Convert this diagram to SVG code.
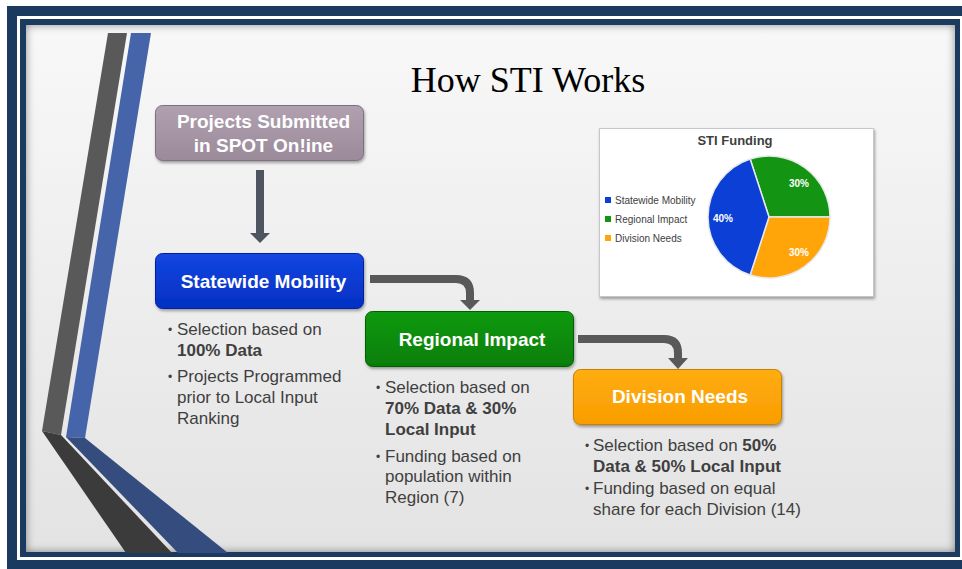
<svg xmlns="http://www.w3.org/2000/svg" width="962" height="569" viewBox="0 0 962 569">
<defs>
  <style>
    .box-t{font-family:"Liberation Sans",Arial,sans-serif;font-weight:bold;font-size:19px;fill:#ffffff;text-anchor:middle}
    .bul{font-family:"Liberation Sans",Arial,sans-serif;font-size:17px;fill:#3f3f3f}
    .dot{font-family:"Liberation Sans",Arial,sans-serif;font-size:12px;fill:#3f3f3f}
    .b{font-weight:bold}
    .leg{font-family:"Liberation Sans",Arial,sans-serif;font-size:10px;fill:#404040}
    .pct{font-family:"Liberation Sans",Arial,sans-serif;font-size:10px;font-weight:bold;fill:#ffffff;text-anchor:middle}
    .arrow{fill:#595959}
    .elbow{fill:none;stroke:#595959;stroke-width:8}
  </style>
  <linearGradient id="bg" x1="0" y1="0" x2="0" y2="1">
    <stop offset="0" stop-color="#f8f8f8"/>
    <stop offset="1" stop-color="#e3e3e3"/>
  </linearGradient>
  <linearGradient id="gMauve" x1="0" y1="0" x2="0" y2="1">
    <stop offset="0" stop-color="#b0a0b0"/>
    <stop offset="1" stop-color="#9a8a9a"/>
  </linearGradient>
  <linearGradient id="gBlue" x1="0" y1="0" x2="0" y2="1">
    <stop offset="0" stop-color="#1446e0"/>
    <stop offset="1" stop-color="#0330c4"/>
  </linearGradient>
  <linearGradient id="gGreen" x1="0" y1="0" x2="0" y2="1">
    <stop offset="0" stop-color="#119a11"/>
    <stop offset="1" stop-color="#067e06"/>
  </linearGradient>
  <linearGradient id="gOrange" x1="0" y1="0" x2="0" y2="1">
    <stop offset="0" stop-color="#ffad12"/>
    <stop offset="1" stop-color="#f99d00"/>
  </linearGradient>
  <filter id="shadow" x="-10%" y="-10%" width="130%" height="140%">
    <feDropShadow dx="1" dy="2" stdDeviation="1.5" flood-color="#000" flood-opacity="0.35"/>
  </filter>
  <filter id="blur6" x="-5%" y="-5%" width="110%" height="110%">
    <feGaussianBlur stdDeviation="4"/>
  </filter>
  <clipPath id="contentClip">
    <rect x="26" y="25" width="929" height="527"/>
  </clipPath>
</defs>

<!-- frame -->
<rect x="0" y="0" width="962" height="569" fill="#ffffff"/>
<rect x="7" y="6" width="962" height="570" fill="#1b3a5f"/>
<rect x="17" y="16" width="950" height="544" fill="#ffffff"/>
<rect x="20" y="19" width="940" height="538" fill="#1b3a5f"/>
<rect x="26" y="25" width="929" height="527" fill="url(#bg)"/>
<g clip-path="url(#contentClip)">
  <rect x="22" y="21" width="937" height="535" fill="none" stroke="#000" stroke-opacity="0.45" stroke-width="8" filter="url(#blur6)"/>
</g>

<!-- decorative stripes -->
<g id="stripes">
  <polygon points="108,33 127,33 61,435 42,431" fill="#595959"/>
  <polygon points="42,431 61,435 172,553 126,553" fill="#3b3b3b"/>
  <polygon points="131,33 151,33 85,438 66,437" fill="#4664a9"/>
  <polygon points="66,437 85,438 228,553 178,553" fill="#354c7f"/>
</g>

<!-- title -->
<text x="528" y="92" font-family="'Liberation Serif','Times New Roman',serif" font-size="36" fill="#000000" text-anchor="middle">How STI Works</text>

<!-- connectors -->
<g id="connectors">
  <g id="c-projects-statewide" fill="#4f5461">
    <rect x="256" y="170" width="8" height="64"/>
    <polygon points="250,233 270,233 260,243"/>
  </g>
  <g id="c-statewide-regional">
    <path class="elbow" d="M370 279 H456 Q470 279 470 293 V301"/>
    <polygon class="arrow" points="460,300 480,300 470,310"/>
  </g>
  <g id="c-regional-division">
    <path class="elbow" d="M578 339 H664 Q678 339 678 353 V359"/>
    <polygon class="arrow" points="668,358 688,358 678,369"/>
  </g>
</g>

<!-- nodes -->
<g id="node-projects">
  <rect x="155.5" y="105.5" width="208" height="55" rx="7" fill="url(#gMauve)" stroke="#7f6f7f" filter="url(#shadow)"/>
  <text class="box-t" x="263.5" y="128">Projects Submitted</text>
  <text class="box-t" x="263.5" y="152">in SPOT On!ine</text>
</g>

<g id="node-statewide">
  <rect x="155.5" y="253.5" width="208" height="55" rx="7" fill="url(#gBlue)" stroke="#0024a0" filter="url(#shadow)"/>
  <text class="box-t" x="263.5" y="288">Statewide Mobility</text>
  <text class="dot" x="168" y="334">•</text>
  <text class="bul" x="177" y="335">Selection based on</text>
  <text class="bul b" x="177" y="356">100% Data</text>
  <text class="dot" x="168" y="381">•</text>
  <text class="bul" x="177" y="382">Projects Programmed</text>
  <text class="bul" x="177" y="403">prior to Local Input</text>
  <text class="bul" x="177" y="424">Ranking</text>
</g>

<g id="node-regional">
  <rect x="365.5" y="311.5" width="208" height="55" rx="7" fill="url(#gGreen)" stroke="#056005" filter="url(#shadow)"/>
  <text class="box-t" x="472" y="346">Regional Impact</text>
  <text class="dot" x="376" y="392">•</text>
  <text class="bul" x="385" y="393">Selection based on</text>
  <text class="bul b" x="385" y="414">70% Data &amp; 30%</text>
  <text class="bul b" x="385" y="435">Local Input</text>
  <text class="dot" x="376" y="461">•</text>
  <text class="bul" x="385" y="462">Funding based on</text>
  <text class="bul" x="385" y="482">population within</text>
  <text class="bul" x="385" y="503">Region (7)</text>
</g>

<g id="node-division">
  <rect x="573.5" y="369.5" width="208" height="55" rx="7" fill="url(#gOrange)" stroke="#c98000" filter="url(#shadow)"/>
  <text class="box-t" x="680" y="403">Division Needs</text>
  <text class="dot" x="585" y="450">•</text>
  <text class="bul" x="593" y="451">Selection based on <tspan class="b">50%</tspan></text>
  <text class="bul b" x="593" y="472">Data &amp; 50% Local Input</text>
  <text class="dot" x="585" y="493">•</text>
  <text class="bul" x="593" y="494">Funding based on equal</text>
  <text class="bul" x="593" y="515">share for each Division (14)</text>
</g>

<!-- chart -->
<g id="chart-sti-funding">
  <rect x="599.5" y="128.5" width="274" height="168" fill="#ffffff" stroke="#c4c8cc" filter="url(#shadow)"/>
  <text x="735" y="145" font-family="'Liberation Sans',Arial,sans-serif" font-size="13" font-weight="bold" fill="#404040" text-anchor="middle">STI Funding</text>
  <g stroke="#e8e8e8" stroke-width="1.5" stroke-linejoin="round">
    <path d="M769 217 L750.15 158.99 A61 61 0 0 1 830 217 Z" fill="#139413"/>
    <path d="M769 217 L830 217 A61 61 0 0 1 750.15 275.01 Z" fill="#ffa50a"/>
    <path d="M769 217 L750.15 275.01 A61 61 0 0 1 750.15 158.99 Z" fill="#0c3fd6"/>
  </g>
  <text class="pct" x="799" y="187">30%</text>
  <text class="pct" x="723" y="222">40%</text>
  <text class="pct" x="799" y="256">30%</text>
  <rect x="605" y="197" width="6" height="6" fill="#0c3fd6"/>
  <text class="leg" x="615" y="204">Statewide Mobility</text>
  <rect x="605" y="216" width="6" height="6" fill="#139413"/>
  <text class="leg" x="615" y="223">Regional Impact</text>
  <rect x="605" y="235" width="6" height="6" fill="#ffa50a"/>
  <text class="leg" x="615" y="242">Division Needs</text>
</g>
</svg>
